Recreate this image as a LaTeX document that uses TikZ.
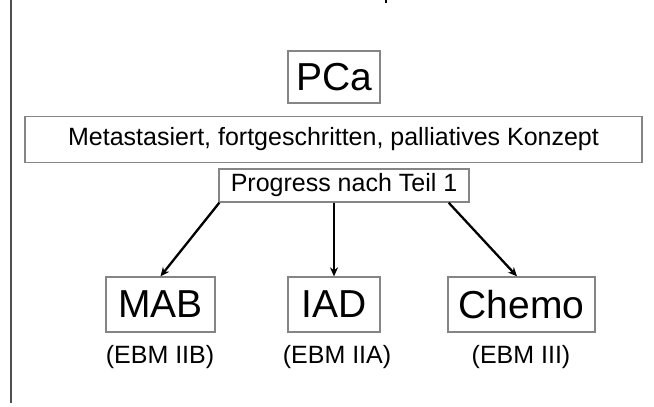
\documentclass[tikz,border=0pt]{standalone}
\usepackage{fontspec}
\setmainfont{Liberation Sans}
\usetikzlibrary{arrows.meta,calc}
\definecolor{boxgray}{HTML}{858585}
\definecolor{linegray}{HTML}{505050}
\begin{document}
\begin{tikzpicture}[x=1pt,y=-1pt,
  box/.style={draw=boxgray,line width=1.3pt,rectangle,inner sep=0pt,fill=white},
  small/.style={font=\fontsize{25}{30}\selectfont},
  big/.style={font=\fontsize{39}{46}\selectfont},
  arr/.style={line width=2.3pt,-{Stealth[length=9pt,width=8pt]}}]
\useasboundingbox[fill=white] (0,0) rectangle (654,407);
\draw[linegray,line width=1.6pt] (11,0) coordinate (ltop) -- (11,403) coordinate (lbot);
\draw[black,line width=1.2pt] (386,0) coordinate (ttop) -- (386,2.5) coordinate (tbot);
\node[box,big,minimum width=92pt,minimum height=52pt] (pca) at (334,77) {PCa};
\node[box,small,minimum width=617pt,minimum height=46pt] (meta) at (333.5,139.5) {Metastasiert, fortgeschritten, palliatives Konzept};
\node[box,small,minimum width=250pt,minimum height=33pt] (prog) at (344,185.5) {Progress nach Teil 1};
\node[box,big,minimum width=109pt,minimum height=55pt] (mab) at (160.5,304.5) {MAB};
\node[box,big,minimum width=92pt,minimum height=55pt] (iad) at (334,304.5) {IAD};
\node[box,big,minimum width=147pt,minimum height=55pt] (chemo) at (521.5,304.5) {Chemo};
\node[small,inner sep=0pt] (lmab) at (160,357) {(EBM IIB)};
\node[small,inner sep=0pt] (liad) at (337,357) {(EBM IIA)};
\node[small,inner sep=0pt] (lchemo) at (521,357) {(EBM III)};
\draw[arr] ([xshift=1pt]prog.south west) -- (mab.north);
\draw[arr] (iad.north |- prog.south) -- (iad.north);
\draw[arr] ([xshift=-21pt]prog.south east) -- ([xshift=-4.5pt]chemo.north);
\end{tikzpicture}
\end{document}
